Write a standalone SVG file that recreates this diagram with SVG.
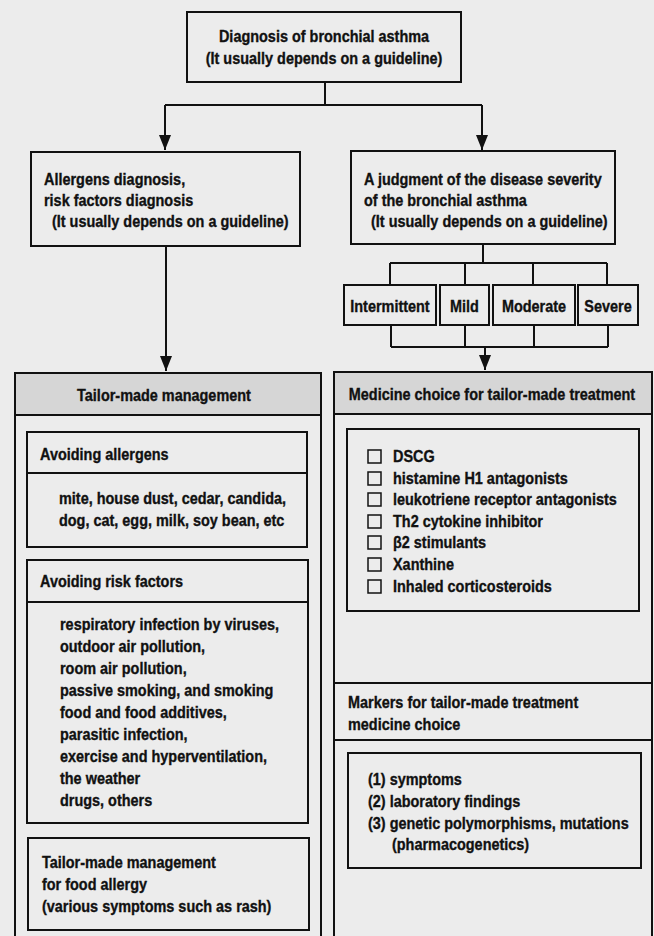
<svg xmlns="http://www.w3.org/2000/svg" width="654" height="936" viewBox="0 0 654 936">
<style>
text{font-family:"Liberation Sans",Arial,sans-serif;font-size:16.5px;font-weight:bold;fill:#111;stroke:#111;stroke-width:0.35;transform-box:fill-box;transform-origin:0 0;transform:scaleX(0.875)}
.c{text-anchor:middle;transform-origin:50% 0}
.box{fill:none;stroke:#111;stroke-width:2}
.hdr{fill:#d6d6d6;stroke:#111;stroke-width:2}
.ln{fill:none;stroke:#111;stroke-width:2}
.cb{fill:none;stroke:#111;stroke-width:1.5}
</style>
<defs>
<marker id="ah" viewBox="0 0 15 12" refX="15" refY="6" markerWidth="15" markerHeight="12" markerUnits="userSpaceOnUse" orient="auto">
<path d="M0,0 L15,6 L0,12 Z" fill="#111"/>
</marker>
</defs>
<rect x="0" y="0" width="654" height="936" fill="#ececec"/>
<g id="connectors">
<path class="ln" d="M325,82 V105 M165,105 H482"/>
<path class="ln" d="M165,105 V150" marker-end="url(#ah)"/>
<path class="ln" d="M482,105 V150" marker-end="url(#ah)"/>
<path class="ln" d="M483,244 V263 M390,263 H607 M390,263 V285 M465,263 V285 M533,263 V285 M607,263 V285"/>
<path class="ln" d="M391,325 V347 M465,325 V347 M534,325 V347 M608,325 V347 M391,347 H608"/>
<path class="ln" d="M485,347 V370" marker-end="url(#ah)"/>
<path class="ln" d="M166,246 V371" marker-end="url(#ah)"/>
</g>
<g id="diagnosis">
<rect class="box" x="187" y="12" width="274" height="70"/>
<text class="c" x="324" y="42">Diagnosis of bronchial asthma</text>
<text class="c" x="324" y="64">(It usually depends on a guideline)</text>
</g>
<g id="allergens-diagnosis">
<rect class="box" x="31" y="152" width="269" height="94"/>
<text x="44" y="185">Allergens diagnosis,</text>
<text x="44" y="206">risk factors diagnosis</text>
<text x="52" y="227">(It usually depends on a guideline)</text>
</g>
<g id="severity">
<rect class="box" x="351" y="151" width="264" height="93"/>
<text x="364" y="185">A judgment of the disease severity</text>
<text x="364" y="206">of the bronchial asthma</text>
<text x="371" y="227">(It usually depends on a guideline)</text>
</g>
<g id="intermittent">
<rect class="box" x="344" y="285" width="92" height="40"/>
<text class="c" x="390" y="312">Intermittent</text>
</g>
<g id="mild">
<rect class="box" x="440" y="285" width="49" height="40"/>
<text class="c" x="464.5" y="312">Mild</text>
</g>
<g id="moderate">
<rect class="box" x="493" y="285" width="82" height="40"/>
<text class="c" x="534" y="312">Moderate</text>
</g>
<g id="severe">
<rect class="box" x="578" y="285" width="60" height="40"/>
<text class="c" x="608" y="312">Severe</text>
</g>
<g id="tailor-made-management">
<path class="box" d="M15,940 V373 H321 V940"/>
<rect class="hdr" x="15" y="373" width="306" height="42"/>
<text class="c" x="164" y="401">Tailor-made management</text>
</g>
<g id="avoiding-allergens">
<rect class="box" x="27" y="432" width="280" height="115"/>
<line class="ln" x1="27" y1="473" x2="307" y2="473"/>
<text x="40" y="460">Avoiding allergens</text>
<text x="59" y="504">mite, house dust, cedar, candida,</text>
<text x="59" y="526">dog, cat, egg, milk, soy bean, etc</text>
</g>
<g id="avoiding-risk-factors">
<rect class="box" x="27" y="560" width="281" height="263"/>
<line class="ln" x1="27" y1="602" x2="308" y2="602"/>
<text x="40" y="587">Avoiding risk factors</text>
<text x="60" y="630">respiratory infection by viruses,</text>
<text x="60" y="652">outdoor air pollution,</text>
<text x="60" y="674">room air pollution,</text>
<text x="60" y="696">passive smoking, and smoking</text>
<text x="60" y="718">food and food additives,</text>
<text x="60" y="740">parasitic infection,</text>
<text x="60" y="762">exercise and hyperventilation,</text>
<text x="60" y="784">the weather</text>
<text x="60" y="806">drugs, others</text>
</g>
<g id="food-allergy">
<rect class="box" x="28" y="838" width="281" height="92"/>
<text x="42" y="868">Tailor-made management</text>
<text x="42" y="890">for food allergy</text>
<text x="42" y="912">(various symptoms such as rash)</text>
</g>
<g id="medicine-choice">
<path class="box" d="M334,940 V372 H652 V940"/>
<rect class="hdr" x="334" y="372" width="318" height="42"/>
<text class="c" x="492" y="400">Medicine choice for tailor-made treatment</text>
</g>
<g id="medicine-list">
<rect class="box" x="347" y="429" width="292" height="182"/>
<rect class="cb" x="368" y="450" width="13" height="13"/>
<text x="393" y="462">DSCG</text>
<rect class="cb" x="368" y="472" width="13" height="13"/>
<text x="393" y="484">histamine H1 antagonists</text>
<rect class="cb" x="368" y="493" width="13" height="13"/>
<text x="393" y="505">leukotriene receptor antagonists</text>
<rect class="cb" x="368" y="515" width="13" height="13"/>
<text x="393" y="527">Th2 cytokine inhibitor</text>
<rect class="cb" x="368" y="536" width="13" height="13"/>
<text x="393" y="548">β2 stimulants</text>
<rect class="cb" x="368" y="558" width="13" height="13"/>
<text x="393" y="570">Xanthine</text>
<rect class="cb" x="368" y="580" width="13" height="13"/>
<text x="393" y="592">Inhaled corticosteroids</text>
</g>
<g id="markers">
<line class="ln" x1="334" y1="683" x2="652" y2="683"/>
<line class="ln" x1="334" y1="740" x2="652" y2="740"/>
<text x="348" y="708">Markers for tailor-made treatment</text>
<text x="348" y="730">medicine choice</text>
</g>
<g id="markers-list">
<rect class="box" x="348" y="753" width="293" height="115"/>
<text x="368" y="785">(1) symptoms</text>
<text x="368" y="807">(2) laboratory findings</text>
<text x="368" y="829">(3) genetic polymorphisms, mutations</text>
<text x="392" y="850">(pharmacogenetics)</text>
</g>
</svg>
